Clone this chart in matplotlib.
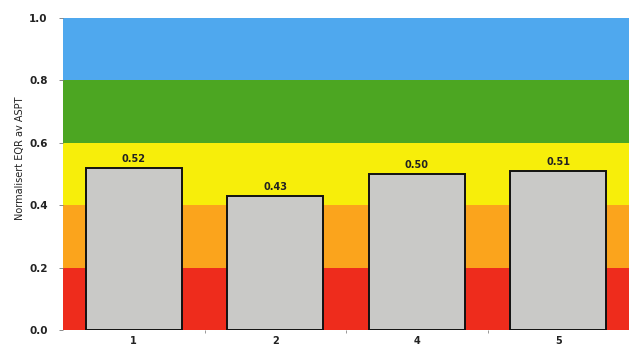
import matplotlib
matplotlib.use("Agg")
import matplotlib.pyplot as plt
import numpy as np

# Stations and their normalised EQR (ASPT)
stations = ["1", "2", "4", "5"]
eqr_values = [0.52, 0.43, 0.50, 0.51]
value_labels = ["0.52", "0.43", "0.50", "0.51"]

# Ecological status class boundaries and colours (bad -> high)
class_bounds = [0.0, 0.2, 0.4, 0.6, 0.8, 1.0]
class_colors = ["#ee2c1c", "#fba41c", "#f7ee0a", "#4ca622", "#4fa8ee"]

y_ticks = [0.0, 0.2, 0.4, 0.6, 0.8, 1.0]
y_tick_labels = ["0.0", "0.2", "0.4", "0.6", "0.8", "1.0"]

fig = plt.figure(figsize=(6.30, 3.51), dpi=100)
ax = fig.add_axes([63 / 630, 1 - 330 / 351, (629 - 63) / 630, (330 - 18) / 351])

for lo, hi, c in zip(class_bounds[:-1], class_bounds[1:], class_colors):
    ax.axhspan(lo, hi, color=c, zorder=0, lw=0)

x = np.arange(len(stations))
bars = ax.bar(x, eqr_values, width=0.68, color="#c9c9c7", edgecolor="#111111",
              linewidth=1.4, zorder=2)

for xi, v, lab in zip(x, eqr_values, value_labels):
    ax.text(xi, v + 0.012, lab, ha="center", va="bottom", fontsize=7,
            fontweight="bold", color="#222222", zorder=3)

ax.set_xlim(-0.5, len(stations) - 0.5)
ax.set_ylim(0, 1.0)
ax.set_xticks(x)
ax.set_xticklabels(stations, fontsize=7, fontweight="bold", color="#222222")
ax.set_xticks(x[:-1] + 0.5, minor=True)
ax.set_yticks(y_ticks)
ax.set_yticklabels(y_tick_labels, fontsize=7.5, fontweight="bold", color="#222222")
ax.tick_params(axis="x", which="major", length=0, pad=4)
ax.tick_params(axis="x", which="minor", length=2.5, width=0.6, color="#888888")
ax.tick_params(axis="y", length=3, width=0.6, color="#777777", pad=8)
for s in ax.spines.values():
    s.set_visible(False)

ax.set_ylabel("Normalisert EQR av ASPT", fontsize=7, color="#222222")
ax.yaxis.set_label_coords(-0.068, 0.55)

fig.savefig("out.png", dpi=100, facecolor="white")
